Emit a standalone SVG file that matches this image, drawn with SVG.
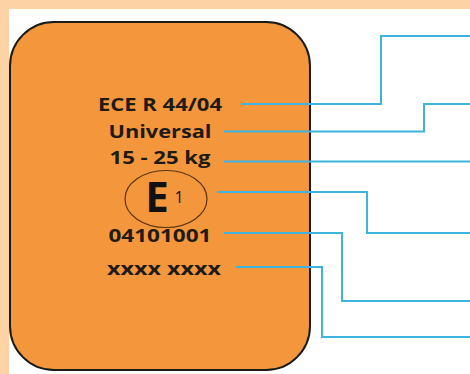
<svg xmlns="http://www.w3.org/2000/svg" width="470" height="374" viewBox="0 0 470 374">
<style>
.lbl{font-family:"Open Sans","Liberation Sans",sans-serif;font-weight:bold;fill:#1e1a14;text-anchor:middle}
.con{fill:none;stroke:#3db3dd;stroke-width:2}
</style>
<rect x="0" y="0" width="470" height="374" fill="#fdd2a4"/>
<rect x="9" y="9" width="470" height="380" fill="#ffffff"/>
<g id="label-card">
<rect x="10" y="22" width="300" height="348" rx="44" ry="44" fill="#f4973c" stroke="#1a1a1a" stroke-width="2"/>
</g>
<g id="t-ece"><text class="lbl" x="160" y="111" font-size="18" textLength="124" lengthAdjust="spacingAndGlyphs">ECE R 44/04</text></g>
<g id="t-universal"><text class="lbl" x="160" y="138" font-size="18" textLength="103" lengthAdjust="spacingAndGlyphs">Universal</text></g>
<g id="t-weight"><text class="lbl" x="160" y="164" font-size="18" textLength="101" lengthAdjust="spacingAndGlyphs">15 - 25 kg</text></g>
<g id="t-e1">
<ellipse cx="166" cy="199" rx="41" ry="28.5" fill="none" stroke="#5a3410" stroke-width="1.2"/>
<text x="157" y="212" font-family="'Open Sans','Liberation Sans',sans-serif" font-weight="bold" font-size="42" fill="#111" text-anchor="middle">E</text>
<text x="179" y="203" font-family="'Open Sans','Liberation Sans',sans-serif" font-size="16" fill="#111" text-anchor="middle">1</text>
</g>
<g id="t-number"><text class="lbl" x="160" y="242" font-size="18" textLength="103" lengthAdjust="spacingAndGlyphs">04101001</text></g>
<g id="t-xxxx"><text class="lbl" x="164" y="275" font-size="18" textLength="114" lengthAdjust="spacingAndGlyphs">xxxx xxxx</text></g>
<g id="connectors">
<polyline class="con" points="242,104 381,104 381,36 470,36"/>
<polyline class="con" points="224,131.5 424,131.5 424,104 470,104"/>
<polyline class="con" points="224,161.5 470,161.5"/>
<polyline class="con" points="217,192 367,192 367,233 470,233"/>
<polyline class="con" points="224,233 342,233 342,301 470,301"/>
<polyline class="con" points="236,267 322,267 322,337 470,337"/>
</g>
</svg>
